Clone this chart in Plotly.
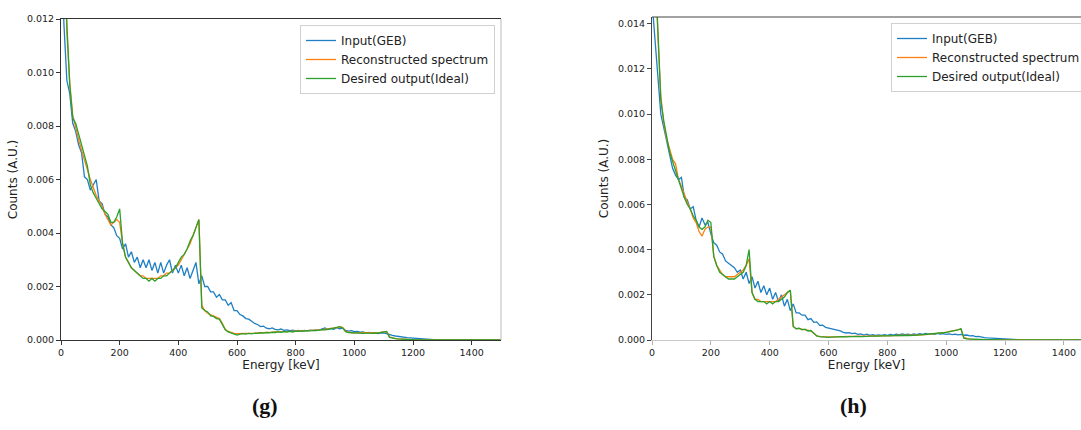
import plotly.graph_objects as go

# Energy bins (keV)
energy = list(range(0, 1510, 10))

# ---------- panel (g) ----------
input_g = [
    0.0150, 0.0118, 0.0097, 0.0092, 0.0081, 0.0078, 0.0073, 0.0070, 0.0061, 0.0060,
    0.0056, 0.0058, 0.0060, 0.0052, 0.0051, 0.0047, 0.0046, 0.0043, 0.0042, 0.0039,
    0.0038, 0.0034, 0.0036, 0.0031, 0.0033, 0.0029, 0.0031, 0.0027, 0.0030, 0.0027,
    0.0030, 0.0026, 0.0029, 0.0025, 0.0029, 0.0025, 0.0028, 0.0030, 0.0025, 0.0028,
    0.0025, 0.0028, 0.0024, 0.0027, 0.0023, 0.0026, 0.0029, 0.0021, 0.0024, 0.0020,
    0.0020, 0.0018, 0.0018, 0.0016, 0.0017, 0.0015, 0.0015, 0.0013, 0.0014, 0.0011,
    0.0011, 0.00095, 0.0009, 0.0008, 0.00078, 0.0007, 0.00062, 0.00058, 0.0005, 0.00052,
    0.00044, 0.00042, 0.00045, 0.0004, 0.00038, 0.00041, 0.00036, 0.00038, 0.00035, 0.00037,
    0.00034, 0.00036, 0.00033, 0.00036, 0.00034, 0.00037, 0.00035, 0.00038, 0.00036, 0.00042,
    0.00045, 0.00039, 0.00043, 0.0004, 0.00046, 0.00042, 0.00044, 0.00036, 0.00033, 0.00035,
    0.00031, 0.00032, 0.00029, 0.0003, 0.00027, 0.00028, 0.00025, 0.00027, 0.00024, 0.00026,
    0.00027, 0.00024, 0.0002, 0.00017, 0.00015, 0.00013, 0.00012, 0.0001, 0.00009, 0.00008,
    0.00007, 0.00006, 0.00004, 0.00004, 0.00003, 0.00002, 0.00002, 0.00001, 0.00001, 0.0,
    0.00001, 0.0, 0.0, 0.00001, 0.0, 0.0, 0.0, 0.0, 0.0, 0.0,
    0.0, 0.0, 0.0, 0.0, 0.0, 0.0, 0.0, 0.0, 0.0, 0.0,
    0.0,
]
recon_g = [
    0.0200, 0.0150, 0.0115, 0.0096, 0.0084, 0.0079, 0.0075, 0.0071, 0.0067, 0.0063,
    0.0060, 0.0057, 0.0054, 0.0052, 0.0050, 0.0047, 0.0045, 0.0043, 0.0044, 0.0045,
    0.0044, 0.0036, 0.0031, 0.0029, 0.0027, 0.0026, 0.0025, 0.0024, 0.0024, 0.0023,
    0.0023, 0.0023, 0.0023, 0.0023, 0.0024, 0.0024, 0.0025, 0.0025, 0.0026, 0.0027,
    0.0028, 0.0030, 0.0032, 0.0034, 0.0036, 0.0039, 0.0042, 0.0045, 0.0013, 0.0011,
    0.0010, 0.00095, 0.0009, 0.00085, 0.0008, 0.00062, 0.0004, 0.00032, 0.00027, 0.00025,
    0.00024, 0.00024, 0.00024, 0.00025, 0.00025, 0.00026, 0.00026, 0.00027, 0.00027, 0.00028,
    0.00028, 0.00029, 0.00029, 0.0003, 0.0003, 0.00031, 0.00031, 0.00032, 0.00032, 0.00033,
    0.00033, 0.00034, 0.00034, 0.00035, 0.00035, 0.00036, 0.00036, 0.00037, 0.00038, 0.00039,
    0.0004, 0.00041, 0.00042, 0.00044, 0.00046, 0.00049, 0.00047, 0.00033, 0.00029, 0.00027,
    0.00027, 0.00027, 0.00027, 0.00027, 0.00027, 0.00027, 0.00027, 0.00027, 0.00027, 0.00028,
    0.0003, 0.00031, 0.00012, 0.00007, 0.00005, 0.00004, 0.00003, 0.00002, 0.00002, 0.00001,
    0.00001, 0.0, 0.0, 0.0, 0.0, 0.0, 0.0, 0.0, 0.0, 0.0,
    0.0, 0.0, 0.0, 0.0, 0.0, 0.0, 0.0, 0.0, 0.0, 0.0,
    0.0, 0.0, 0.0, 0.0, 0.0, 0.0, 0.0, 0.0, 0.0, 0.0,
    0.0,
]
ideal_g = [
    0.0200, 0.0160, 0.0118, 0.0095, 0.0083, 0.0081, 0.0077, 0.0074, 0.0070, 0.0065,
    0.0058, 0.0055, 0.0053, 0.0051, 0.0049, 0.0048, 0.0047, 0.0044, 0.0044, 0.0046,
    0.0049, 0.0036, 0.0031, 0.0029, 0.0027, 0.0026, 0.0025, 0.0024, 0.0023, 0.0023,
    0.0022, 0.0023, 0.0022, 0.0023, 0.0023, 0.0024, 0.0024, 0.0025, 0.0026, 0.0027,
    0.0029, 0.0031, 0.0032, 0.0034, 0.0037, 0.0039, 0.0042, 0.0045, 0.0012, 0.0011,
    0.00105, 0.0009, 0.00088, 0.0008, 0.00078, 0.0006, 0.00038, 0.0003, 0.00026, 0.00024,
    0.00018, 0.00022, 0.00024, 0.00022, 0.00025, 0.00023, 0.00026, 0.00025, 0.00027, 0.00026,
    0.00028, 0.00027, 0.00029, 0.00028, 0.0003, 0.00029, 0.00031, 0.0003, 0.00032, 0.0003,
    0.00033, 0.00032, 0.00034, 0.00033, 0.00035, 0.00034, 0.00036, 0.00035, 0.00037, 0.00039,
    0.00038, 0.00041, 0.00042, 0.00044, 0.00047, 0.0005, 0.00045, 0.00031, 0.00028, 0.00027,
    0.00026, 0.00027, 0.00026, 0.00025, 0.00026, 0.00025, 0.00026, 0.00027, 0.00026, 0.00028,
    0.0003, 0.00032, 0.0001, 0.00007, 0.00005, 0.00004, 0.00003, 0.00003, 0.00002, 0.00002,
    0.00001, 0.0, 0.0, 0.0, 0.0, 0.0, 0.0, 0.0, 0.0, 0.0,
    0.0, 0.0, 0.0, 0.0, 0.0, 0.0, 0.0, 0.0, 0.0, 0.0,
    0.0, 0.0, 0.0, 0.0, 0.0, 0.0, 0.0, 0.0, 0.0, 0.0,
    0.0,
]

# ---------- panel (h) ----------
input_h = [
    0.0150, 0.0132, 0.0115, 0.0100, 0.0094, 0.0088, 0.0082, 0.0076, 0.0073, 0.0071,
    0.0072, 0.0063, 0.0062, 0.0058, 0.0059, 0.0053, 0.0050, 0.0054, 0.0051, 0.0052,
    0.0047, 0.0043, 0.0042, 0.0039, 0.0038, 0.0035, 0.0034, 0.0033, 0.0032, 0.0030,
    0.0031, 0.0027, 0.0030, 0.0025, 0.0028, 0.0023, 0.0026, 0.0021, 0.0024, 0.0020,
    0.0023, 0.0018, 0.0021, 0.0017, 0.0020, 0.0015, 0.0018, 0.0013, 0.0016, 0.0012,
    0.0012, 0.0011, 0.0011, 0.0009, 0.00095, 0.00078, 0.0008, 0.00065, 0.00066, 0.00056,
    0.00053, 0.0005, 0.00045, 0.00042, 0.0004, 0.00034, 0.00031, 0.00033, 0.00028, 0.0003,
    0.00025, 0.00027, 0.00022, 0.00026, 0.00021, 0.00024, 0.0002, 0.00023, 0.0002, 0.00024,
    0.00021, 0.00025, 0.00022, 0.00026, 0.00023, 0.00027, 0.00024, 0.00026, 0.00023, 0.00027,
    0.00024, 0.00028, 0.00025, 0.00029, 0.00026, 0.00028, 0.00025, 0.00029, 0.00026, 0.00028,
    0.00025, 0.00027, 0.00024, 0.00026, 0.00023, 0.00025, 0.00021, 0.00022, 0.00018, 0.00019,
    0.00015, 0.00016, 0.00012, 0.00011, 0.00009, 0.00008, 0.00007, 0.00006, 0.00005, 0.00005,
    0.00004, 0.00003, 0.00002, 0.00002, 0.00001, 0.00001, 0.00001, 0.0, 0.0, 0.0,
    0.0, 0.0, 0.0, 0.0, 0.0, 0.0, 0.0, 0.0, 0.0, 0.0,
    0.0, 0.00001, 0.0, 0.0, 0.0, 0.0, 0.0, 0.0, 0.0, 0.0,
    0.0,
]
recon_h = [
    0.0200, 0.0165, 0.0135, 0.0108, 0.0096, 0.0089, 0.0084, 0.0080, 0.0078, 0.0071,
    0.0068, 0.0064, 0.0061, 0.0058, 0.0054, 0.0052, 0.0048, 0.0046, 0.0049, 0.0050,
    0.0050, 0.0037, 0.0033, 0.0031, 0.0029, 0.0028, 0.0028, 0.0028, 0.0028, 0.0029,
    0.0030, 0.0031, 0.0033, 0.0036, 0.0021, 0.0018, 0.0018, 0.0017, 0.0017, 0.0017,
    0.0017, 0.0017, 0.0017, 0.0018, 0.0019, 0.0020, 0.0021, 0.0022, 0.0006, 0.0005,
    0.0005, 0.00047, 0.00045, 0.00042, 0.0004, 0.0003, 0.00018, 0.00015, 0.00014, 0.00014,
    0.00014, 0.00014, 0.00014, 0.00015, 0.00015, 0.00015, 0.00015, 0.00016, 0.00016, 0.00016,
    0.00016, 0.00017, 0.00017, 0.00017, 0.00017, 0.00018, 0.00018, 0.00018, 0.00018, 0.00019,
    0.00019, 0.00019, 0.00019, 0.0002, 0.0002, 0.0002, 0.0002, 0.00021, 0.00021, 0.00021,
    0.00022, 0.00022, 0.00023, 0.00024, 0.00025, 0.00026, 0.00027, 0.00029, 0.00031, 0.00033,
    0.00035, 0.00037, 0.00039, 0.00041, 0.00044, 0.00048, 0.0001, 0.00006, 0.00004, 0.00003,
    0.00003, 0.00002, 0.00002, 0.00001, 0.00001, 0.0, 0.0, 0.0, 0.0, 0.0,
    0.0, 0.0, 0.0, 0.0, 0.0, 0.0, 0.0, 0.0, 0.0, 0.0,
    0.0, 0.0, 0.0, 0.0, 0.0, 0.0, 0.0, 0.0, 0.0, 0.0,
    0.0, 0.0, 0.0, 0.0, 0.0, 0.0, 0.0, 0.0, 0.0, 0.0,
    0.0,
]
ideal_h = [
    0.0200, 0.0170, 0.0142, 0.0106, 0.0097, 0.0090, 0.0083, 0.0079, 0.0075, 0.0070,
    0.0066, 0.0063, 0.0060, 0.0058, 0.0055, 0.0053, 0.0050, 0.0049, 0.0050, 0.0053,
    0.0052, 0.0037, 0.0033, 0.0030, 0.0029, 0.0028, 0.0027, 0.0027, 0.0027, 0.0028,
    0.0029, 0.0030, 0.0033, 0.0040, 0.0021, 0.0018, 0.0017, 0.0017, 0.0017, 0.0016,
    0.0017, 0.0016, 0.0017, 0.0017, 0.0018, 0.0019, 0.0021, 0.0022, 0.0006, 0.0005,
    0.00052, 0.00045, 0.00048, 0.0004, 0.00042, 0.0003, 0.00018, 0.00015, 0.00013, 0.00014,
    0.00012, 0.00013, 0.00014, 0.00013, 0.00014, 0.00015, 0.00014, 0.00015, 0.00016, 0.00015,
    0.00016, 0.00015, 0.00017, 0.00016, 0.00017, 0.00016, 0.00018, 0.00017, 0.00018, 0.00017,
    0.00019, 0.00018, 0.00019, 0.0002, 0.00019, 0.0002, 0.00021, 0.0002, 0.00022, 0.00021,
    0.00022, 0.00023, 0.00022, 0.00024, 0.00025, 0.00026, 0.00027, 0.00028, 0.0003, 0.00032,
    0.00034, 0.00036, 0.00038, 0.0004, 0.00045, 0.0005, 0.00008, 0.00005, 0.00004, 0.00003,
    0.00003, 0.00002, 0.00002, 0.00001, 0.00001, 0.00001, 0.0, 0.0, 0.0, 0.0,
    0.0, 0.0, 0.0, 0.0, 0.0, 0.0, 0.0, 0.0, 0.0, 0.0,
    0.0, 0.0, 0.0, 0.0, 0.0, 0.0, 0.0, 0.0, 0.0, 0.0,
    0.0, 0.0, 0.0, 0.0, 0.0, 0.0, 0.0, 0.0, 0.0, 0.0,
    0.0,
]

series_names = ["Input(GEB)", "Reconstructed spectrum", "Desired output(Ideal)"]
colors = ["#1f7fc4", "#ff7f0e", "#2ca02c"]
x_ticks = [0, 200, 400, 600, 800, 1000, 1200, 1400]
y_ticks_g = [0.000, 0.002, 0.004, 0.006, 0.008, 0.010, 0.012]
y_ticks_h = [0.000, 0.002, 0.004, 0.006, 0.008, 0.010, 0.012, 0.014]
panel_labels = ["(g)", "(h)"]

W, H = 1081, 430
FONT = "DejaVu Sans"

fig = go.Figure()

for series, name, col in zip([input_g, recon_g, ideal_g], series_names, colors):
    fig.add_trace(go.Scatter(x=energy, y=series, name=name, mode="lines",
                             line=dict(color=col, width=1.3),
                             xaxis="x", yaxis="y", legend="legend"))
for series, name, col in zip([input_h, recon_h, ideal_h], series_names, colors):
    fig.add_trace(go.Scatter(x=energy, y=series, name=name, mode="lines",
                             line=dict(color=col, width=1.3),
                             xaxis="x2", yaxis="y2", legend="legend2"))

def px_x(p):
    return p / W

def px_y(p):
    return (H - p) / H

def axis_style(line_col, tick_col):
    return dict(
        showgrid=False, zeroline=False, showline=True, linecolor=line_col, linewidth=1,
        ticks="outside", ticklen=4, tickcolor=tick_col, tickwidth=1,
        tickfont=dict(family=FONT, size=9.5, color="#222"),
    )

fig.update_layout(
    width=W, height=H,
    margin=dict(l=0, r=0, t=0, b=0, autoexpand=False),
    paper_bgcolor="white", plot_bgcolor="white",
    font=dict(family=FONT, color="#222"),
    xaxis=dict(domain=[px_x(61), px_x(501)], range=[0, 1500], anchor="y",
               tickvals=x_ticks, mirror=True,
               title=dict(text="Energy [keV]", font=dict(size=12), standoff=3),
               **axis_style("#333", "#333")),
    yaxis=dict(domain=[px_y(340), px_y(19)], range=[0, 0.012], anchor="x",
               tickvals=y_ticks_g, tickformat=".3f",
               title=dict(text="Counts (A.U.)", font=dict(size=12), standoff=6),
               **axis_style("#333", "#333")),
    xaxis2=dict(domain=[px_x(652), 1.0], range=[0, 1458], anchor="y2",
                tickvals=x_ticks,
                title=dict(text="Energy [keV]", font=dict(size=12), standoff=3),
                **axis_style("#c8c8c8", "#b0b0b0")),
    yaxis2=dict(domain=[px_y(340), px_y(17)], range=[0, 0.0143], anchor="x2",
                tickvals=y_ticks_h, tickformat=".3f",
                title=dict(text="Counts (A.U.)", font=dict(size=12), standoff=6),
                **axis_style("#444", "#444")),
    legend=dict(x=px_x(300), y=px_y(25), xanchor="left", yanchor="top",
                bgcolor="white", bordercolor="#d0d0d0", borderwidth=1,
                font=dict(family=FONT, size=12, color="#222"), itemwidth=30),
    legend2=dict(x=px_x(891), y=px_y(23), xanchor="left", yanchor="top",
                 bgcolor="white", bordercolor="#d0d0d0", borderwidth=1,
                 font=dict(family=FONT, size=12, color="#222"), itemwidth=30),
    showlegend=True,
)

# right spine of panel (g) in light grey
fig.add_shape(type="line", xref="paper", yref="paper",
              x0=px_x(501), x1=px_x(501), y0=px_y(340), y1=px_y(19),
              line=dict(color="#bbbbbb", width=1))
# top spine of panel (h)
fig.add_shape(type="line", xref="paper", yref="paper",
              x0=px_x(652), x1=1.0, y0=px_y(17), y1=px_y(17),
              line=dict(color="#444", width=1))

for lbl, cx in zip(panel_labels, [265, 853]):
    fig.add_annotation(text="<b>" + lbl + "</b>", xref="paper", yref="paper",
                       x=px_x(cx), y=px_y(405), showarrow=False,
                       xanchor="center", yanchor="middle",
                       font=dict(family="Liberation Serif", size=22, color="#111"))

fig.write_html("out.html", config={"displayModeBar": False},
               post_script="document.body.style.margin='0';document.body.style.overflow='hidden';")
